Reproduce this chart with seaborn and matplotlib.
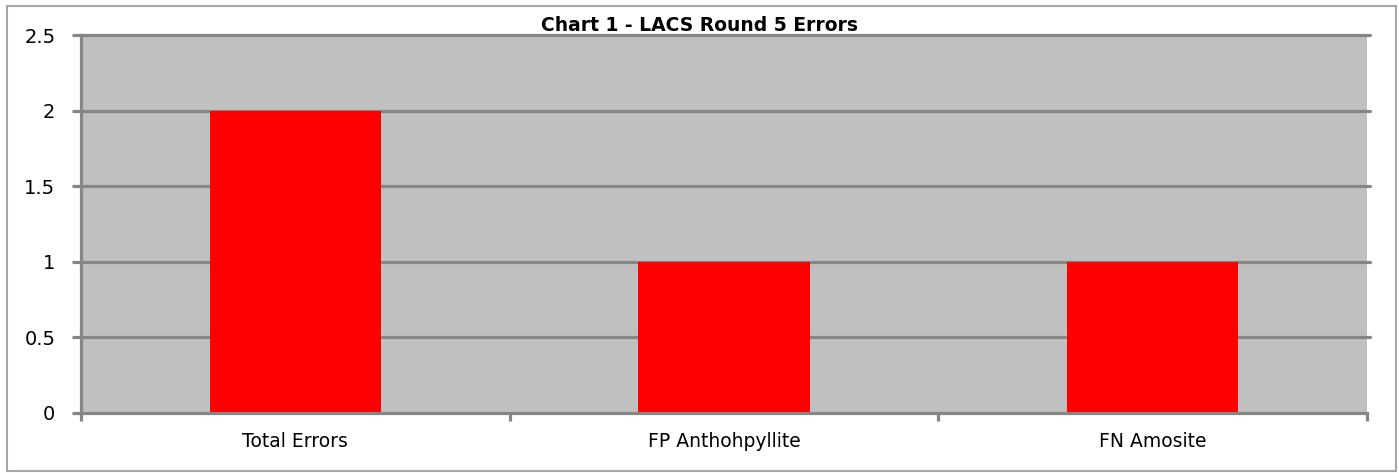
"""Chart 1 - LACS Round 5 Errors, bar chart in the Excel style."""

import matplotlib
matplotlib.use("Agg")
import matplotlib.pyplot as plt
from matplotlib.patches import Rectangle
import pandas as pd
import seaborn as sns

categories = ["Total Errors", "FP Anthohpyllite", "FN Amosite"]
errors = [2, 1, 1]
y_ticks = [0, 0.5, 1, 1.5, 2, 2.5]
y_tick_labels = ["0", "0.5", "1", "1.5", "2", "2.5"]

GRID = "#868686"
PLOT_BG = "#C0C0C0"

df = pd.DataFrame({"categoria": categories, "errores": errors})

sns.set_style("white")
plt.rcParams["font.family"] = ["DejaVu Sans"]
plt.rcParams["text.color"] = "black"
plt.rcParams["xtick.color"] = "black"
plt.rcParams["ytick.color"] = "black"

fig = plt.figure(figsize=(13.99, 4.73), dpi=100)
ax = fig.add_axes([0.0579, 0.127, 0.9192, 0.799])

sns.barplot(data=df, x="categoria", y="errores", color="#FF0000",
            width=0.4, saturation=1, linewidth=0, edgecolor="none", ax=ax)

ax.set_facecolor(PLOT_BG)
ax.set_ylim(0, 2.5)
ax.set_xlim(-0.5, len(categories) - 0.5)
ax.set_yticks(y_ticks)
ax.set_yticklabels(y_tick_labels)
ax.set_xlabel("")
ax.set_ylabel("")

# Líneas de cuadrícula horizontales
for y in y_ticks[1:]:
    ax.axhline(y, color=GRID, lw=2.3, zorder=0.5, clip_on=False,
               xmin=0, xmax=1.002)
ax.set_axisbelow(True)

for side in ["top", "right"]:
    ax.spines[side].set_visible(False)
for side in ["left", "bottom"]:
    ax.spines[side].set_color(GRID)
    ax.spines[side].set_linewidth(2.3)

ax.tick_params(axis="y", left=True, length=6.5, width=2.3, color=GRID,
               labelcolor="black", labelsize=14, pad=12)
ax.tick_params(axis="x", which="major", bottom=True, length=0,
               labelcolor="black", labelsize=13.5, pad=14)
ax.set_xticks([i - 0.5 for i in range(len(categories) + 1)], minor=True)
ax.tick_params(axis="x", which="minor", bottom=True, length=6, width=2.3, color=GRID)

fig.text(0.5, 0.946, "Chart 1 - LACS Round 5 Errors", ha="center", va="center",
         fontsize=13.5, fontweight="bold", color="black")

# Borde exterior del gráfico
fig.patches.append(Rectangle((0.005, 0.004), 0.993, 0.984, transform=fig.transFigure,
                             fill=False, edgecolor="#A6A6A6", lw=1.5))

fig.savefig("out.png", dpi=100)
